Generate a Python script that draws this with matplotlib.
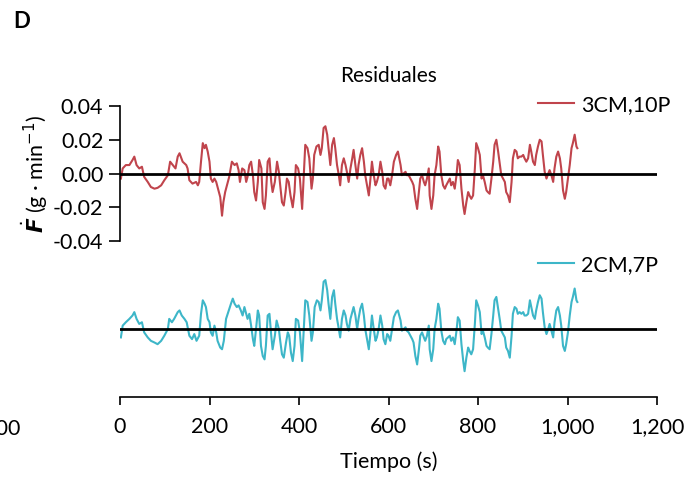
import matplotlib
matplotlib.use("Agg")
import matplotlib.pyplot as plt

plt.rcParams['font.family'] = ['Lato', 'DejaVu Sans']
plt.rcParams['axes.unicode_minus'] = False

# ---- data ----
t_top = [2, 6, 13, 21, 28, 32, 37, 43, 49, 54, 62, 69, 77, 84, 92, 99, 107, 112, 118, 124,
         129, 133, 140, 148, 151, 155, 162, 170, 174, 177, 181, 185, 189, 192, 196, 200, 203,
         207, 211, 215, 218, 224, 228, 231, 235, 241, 244, 250, 256, 261, 265, 268, 273, 278,
         282, 285, 289, 293, 297, 300, 304, 308, 311, 316, 319, 323, 326, 330, 334, 338, 341,
         346, 351, 355, 358, 362, 366, 370, 373, 377, 381, 386, 390, 393, 398, 402, 407, 410,
         414, 419, 423, 428, 431, 434, 439, 444, 448, 451, 455, 459, 463, 466, 470, 474, 478,
         481, 485, 489, 492, 496, 500, 504, 507, 511, 515, 519, 522, 526, 530, 533, 537, 541,
         545, 548, 552, 556, 559, 563, 567, 571, 574, 578, 582, 586, 589, 593, 597, 600, 604,
         608, 612, 617, 621, 627, 630, 634, 638, 641, 645, 649, 653, 656, 660, 664, 668, 671,
         675, 679, 682, 686, 690, 692, 696, 700, 703, 707, 711, 714, 718, 722, 726, 729, 733,
         737, 740, 744, 748, 752, 755, 759, 763, 767, 770, 774, 778, 781, 785, 789, 793, 796,
         800, 804, 808, 811, 815, 819, 822, 826, 830, 834, 837, 841, 845, 849, 852, 856, 860,
         863, 867, 871, 875, 878, 882, 886, 889, 893, 897, 901, 904, 908, 912, 916, 919, 923,
         927, 930, 934, 938, 942, 945, 949, 953, 957, 960, 964, 968, 971, 975, 979, 983, 986,
         990, 994, 997, 1001, 1005, 1009, 1012, 1016, 1020, 1022]
r_top = [-0.003, 0.003, 0.005, 0.005, 0.008, 0.010, 0.005, 0.003, 0.004, -0.002, -0.005, -0.008,
         -0.009, -0.0085, -0.007, -0.004, -0.001, 0.007, 0.005, 0.003, 0.010, 0.012, 0.007, 0.005,
         0.003, -0.004, -0.006, -0.005, -0.007, -0.005, 0.007, 0.018, 0.015, 0.017, 0.013, 0.007,
         -0.003, -0.005, -0.003, -0.005, -0.008, -0.014, -0.025, -0.017, -0.011, -0.005, -0.002,
         0.007, 0.005, 0.006, 0.002, -0.005, 0.003, 0.002, -0.005, -0.002, 0.005, 0.007, -0.001,
         -0.011, -0.016, -0.005, 0.008, 0.003, -0.017, -0.021, -0.013, 0.007, 0.009, -0.005,
         -0.011, -0.005, 0.007, 0.001, -0.007, -0.017, -0.019, -0.011, -0.003, -0.005, -0.013,
         -0.020, -0.011, 0.005, 0.003, -0.003, -0.021, -0.005, 0.017, 0.015, 0.009, -0.009,
         -0.003, 0.011, 0.016, 0.017, 0.011, 0.015, 0.027, 0.028, 0.023, 0.015, 0.005, 0.017,
         0.021, 0.015, 0.005, -0.001, -0.007, 0.005, 0.009, 0.005, 0.001, -0.005, 0.003, 0.009,
         0.014, 0.005, -0.003, 0.005, 0.011, 0.015, 0.007, -0.001, -0.007, -0.013, -0.005, 0.007,
         -0.001, -0.007, -0.005, -0.001, 0.007, 0.001, -0.007, -0.009, -0.003, -0.003, -0.007,
         -0.001, 0.007, 0.011, 0.013, 0.005, -0.001, 0.000, 0.001, -0.001, -0.001, -0.003, -0.005,
         -0.007, -0.015, -0.021, -0.011, -0.003, -0.001, -0.005, -0.007, -0.003, 0.003, -0.013,
         -0.021, -0.013, -0.001, 0.005, 0.016, 0.013, -0.001, -0.007, -0.009, -0.007, -0.005,
         -0.003, -0.007, -0.005, -0.009, -0.001, 0.008, 0.005, -0.009, -0.019, -0.024, -0.017,
         -0.011, -0.013, -0.015, -0.013, 0.003, 0.018, 0.015, 0.011, -0.003, -0.001, -0.005,
         -0.010, -0.011, -0.012, -0.003, 0.007, 0.017, 0.020, 0.013, 0.005, -0.001, -0.003,
         -0.005, -0.011, -0.013, -0.017, -0.005, 0.009, 0.014, 0.013, 0.009, 0.010, 0.010, 0.011,
         0.009, 0.007, 0.009, 0.017, 0.013, 0.007, 0.005, 0.011, 0.016, 0.020, 0.019, 0.011,
         0.001, -0.003, 0.000, 0.002, -0.001, -0.005, 0.003, 0.010, 0.013, 0.009, 0.003, -0.010,
         -0.015, -0.011, -0.003, 0.005, 0.015, 0.018, 0.023, 0.016, 0.015]

t_bot = [2, 6, 13, 21, 28, 32, 37, 43, 49, 54, 62, 69, 77, 84, 92, 99, 107, 110, 116, 121,
         129, 133, 138, 144, 149, 155, 161, 166, 171, 177, 181, 185, 189, 192, 196, 200, 203,
         207, 211, 215, 218, 224, 228, 232, 237, 243, 248, 252, 256, 261, 265, 270, 274, 278,
         282, 285, 289, 293, 297, 300, 304, 308, 311, 315, 319, 323, 326, 330, 334, 338, 341,
         346, 350, 355, 358, 362, 366, 371, 375, 378, 382, 386, 390, 393, 398, 402, 407, 410,
         414, 419, 423, 428, 431, 435, 440, 444, 448, 451, 455, 459, 463, 466, 470, 474, 478,
         481, 485, 489, 492, 496, 500, 504, 507, 511, 515, 519, 522, 526, 530, 533, 537, 541,
         545, 548, 552, 556, 559, 563, 567, 571, 574, 578, 582, 586, 589, 593, 597, 600, 604,
         608, 612, 617, 621, 627, 630, 634, 638, 641, 645, 649, 653, 656, 660, 664, 668, 671,
         675, 679, 682, 686, 690, 692, 696, 700, 703, 707, 711, 714, 718, 722, 726, 729, 733,
         737, 740, 744, 748, 752, 755, 759, 763, 767, 770, 774, 778, 781, 785, 789, 793, 796,
         800, 804, 808, 811, 815, 819, 822, 826, 830, 834, 837, 841, 845, 849, 852, 856, 860,
         863, 867, 871, 875, 878, 882, 886, 889, 893, 897, 901, 904, 908, 912, 916, 919, 923,
         927, 930, 934, 938, 942, 945, 949, 953, 957, 960, 964, 968, 971, 975, 979, 983, 986,
         990, 994, 997, 1001, 1005, 1009, 1012, 1016, 1020, 1022]
r_bot = [-0.005, 0.002, 0.004, 0.006, 0.008, 0.010, 0.006, 0.003, 0.004, -0.002, -0.005, -0.007,
         -0.008, -0.009, -0.007, -0.004, 0.000, 0.006, 0.004, 0.006, 0.010, 0.011, 0.008, 0.006,
         0.004, -0.004, -0.006, -0.003, -0.007, -0.004, 0.009, 0.017, 0.015, 0.013, 0.006, 0.004,
         -0.002, -0.004, 0.002, -0.002, -0.007, -0.011, -0.012, -0.007, 0.006, 0.011, 0.015,
         0.018, 0.015, 0.013, 0.014, 0.011, 0.008, 0.013, 0.009, 0.006, 0.009, 0.002, -0.006,
         -0.010, 0.000, 0.011, 0.008, -0.010, -0.016, -0.018, -0.010, 0.008, 0.009, -0.004,
         -0.012, -0.004, 0.005, 0.000, -0.007, -0.015, -0.017, -0.008, -0.002, -0.004, -0.014,
         -0.019, -0.010, 0.006, 0.005, -0.002, -0.019, -0.004, 0.017, 0.016, 0.008, -0.007,
         -0.002, 0.013, 0.017, 0.016, 0.011, 0.017, 0.028, 0.029, 0.023, 0.015, 0.006, 0.019,
         0.023, 0.015, 0.006, 0.000, -0.005, 0.006, 0.011, 0.008, 0.003, -0.001, 0.006, 0.010,
         0.013, 0.008, 0.000, 0.006, 0.012, 0.015, 0.008, 0.000, -0.006, -0.012, -0.004, 0.008,
         0.000, -0.007, -0.005, 0.000, 0.008, 0.002, -0.006, -0.009, -0.003, -0.004, -0.007,
         0.000, 0.007, 0.010, 0.011, 0.005, -0.001, 0.000, 0.001, -0.001, -0.002, -0.004, -0.006,
         -0.008, -0.016, -0.021, -0.012, -0.004, -0.002, -0.005, -0.007, -0.004, 0.002, -0.012,
         -0.019, -0.012, 0.000, 0.006, 0.015, 0.012, -0.001, -0.007, -0.009, -0.006, -0.005,
         -0.004, -0.007, -0.005, -0.009, -0.001, 0.007, 0.005, -0.009, -0.019, -0.025, -0.017,
         -0.011, -0.013, -0.015, -0.012, 0.003, 0.017, 0.014, 0.010, -0.003, -0.001, -0.005,
         -0.010, -0.011, -0.012, -0.003, 0.008, 0.017, 0.019, 0.012, 0.005, -0.001, -0.003,
         -0.005, -0.011, -0.013, -0.017, -0.004, 0.009, 0.013, 0.012, 0.009, 0.010, 0.009, 0.010,
         0.008, 0.008, 0.009, 0.017, 0.013, 0.008, 0.006, 0.011, 0.016, 0.020, 0.018, 0.010,
         0.001, -0.003, 0.000, 0.003, -0.001, -0.005, 0.004, 0.011, 0.013, 0.008, 0.002, -0.010,
         -0.013, -0.009, -0.002, 0.008, 0.016, 0.019, 0.024, 0.017, 0.016]

labels = ["3CM,10P", "2CM,7P"]
yticks = [-0.04, -0.02, 0.00, 0.02, 0.04]
xticks = [0, 200, 400, 600, 800, 1000, 1200]
xticklabels = ["0", "200", "400", "600", "800", "1,000", "1,200"]

c_top = '#c0444c'
c_bot = '#3db6c8'
FS = 15.5

fig = plt.figure(figsize=(6.98, 4.80), dpi=100)
W, H = 698, 480
x0, x1 = 120 / W, 657 / W
ax1 = fig.add_axes([x0, 1 - 241 / H, x1 - x0, (241 - 106) / H])
ax2 = fig.add_axes([x0, 1 - 396.5 / H, x1 - x0, (396.5 - 261.5) / H])

for ax in (ax1, ax2):
    ax.set_xlim(0, 1200)
    ax.set_ylim(-0.04, 0.04)
    ax.set_facecolor('none')
    for s in ('top', 'right'):
        ax.spines[s].set_visible(False)
    ax.axhline(0, color='black', lw=2, zorder=3)

leg_kw = dict(frameon=False, fontsize=FS, handlelength=1.65, handletextpad=0.35,
              borderaxespad=0, borderpad=0, loc='center left')

# top panel
ln1, = ax1.plot(t_top, r_top, color=c_top, lw=1.5, label=labels[0], zorder=2)
ax1.spines['bottom'].set_visible(False)
ax1.spines['left'].set_linewidth(1.2)
ax1.tick_params(axis='x', bottom=False, labelbottom=False)
ax1.set_yticks(yticks)
ax1.set_yticklabels([f"{v:.2f}" for v in yticks])
ax1.tick_params(axis='y', length=8, width=1.2, labelsize=FS, pad=4)
ax1.set_title("Residuales", fontsize=15, pad=17)
ax1.set_ylabel(r"$\dot{\boldsymbol{F}}$ (g · min$^{-1}$)", fontsize=FS, labelpad=2)
fig.legend(handles=[ln1], bbox_to_anchor=(538 / W, 1 - 105 / H), **leg_kw)

# bottom panel
ln2, = ax2.plot(t_bot, r_bot, color=c_bot, lw=1.5, label=labels[1], zorder=2)
ax2.spines['left'].set_visible(False)
ax2.spines['bottom'].set_linewidth(1.2)
ax2.tick_params(axis='y', left=False, labelleft=False)
ax2.set_xticks(xticks)
ax2.set_xticklabels(xticklabels)
ax2.tick_params(axis='x', length=6, width=1.2, labelsize=FS, pad=9)
ax2.set_xlabel("Tiempo (s)", fontsize=FS, labelpad=10)
fig.legend(handles=[ln2], bbox_to_anchor=(538 / W, 1 - 265 / H), **leg_kw)

fig.text(13 / W, 1 - 22 / H, "D", fontsize=16, fontweight='bold', va='center', ha='left')
fig.text(21 / W, 1 - 428 / H, "1,200", fontsize=FS, va='center', ha='right')

fig.savefig("out.png", dpi=100)
